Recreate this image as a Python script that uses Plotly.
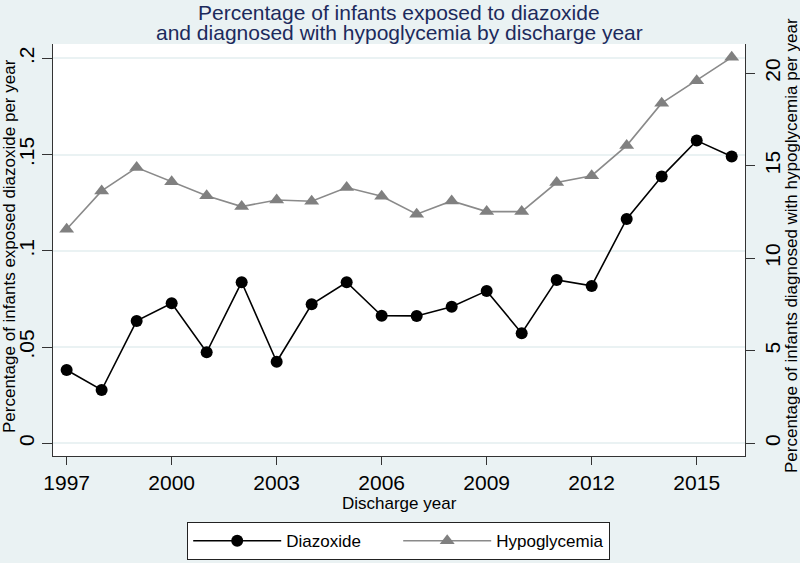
import plotly.graph_objects as go

years = list(range(1997, 2017))
diazoxide = [0.0381, 0.0277, 0.0636, 0.0728, 0.0473, 0.0837, 0.0424, 0.0722, 0.0837, 0.0663,
             0.0662, 0.0710, 0.0792, 0.0572, 0.0849, 0.0818, 0.1166, 0.1386, 0.1573, 0.1490]
hypoglycemia = [11.57, 13.64, 14.90, 14.14, 13.38, 12.79, 13.15, 13.08, 13.82, 13.35,
                12.38, 13.10, 12.52, 12.52, 14.09, 14.46, 16.09, 18.38, 19.60, 20.86]

x_ticks = [1997, 2000, 2003, 2006, 2009, 2012, 2015]
left_ticks = [0, 0.05, 0.1, 0.15, 0.2]
left_labels = ["0", ".05", ".1", ".15", ".2"]
right_ticks = [0, 5, 10, 15, 20]

title_lines = ["Percentage of infants exposed to diazoxide",
               "and diagnosed with hypoglycemia by discharge year"]
x_title = "Discharge year"
y_title = "Percentage of infants exposed diazoxide per year"
y2_title = "Percentage of infants diagnosed with hypoglycemia per year"

FONT = "Liberation Sans, Arial, sans-serif"
BG = "#EAF2F3"
AX = "#333333"

fig = go.Figure()
fig.add_trace(go.Scatter(
    x=years, y=diazoxide, name="Diazoxide", mode="lines+markers",
    line=dict(color="black", width=1.6),
    marker=dict(symbol="circle", size=12, color="black"),
    yaxis="y"))
fig.add_trace(go.Scatter(
    x=years, y=hypoglycemia, name="Hypoglycemia", mode="lines+markers",
    line=dict(color="#8a8a8a", width=1.6),
    marker=dict(symbol="triangle-up", size=13, color="#808080"),
    yaxis="y2"))

L, R, T, B = 53, 55, 44, 107
W, H = 800, 563
pw, ph = W - L - R, H - T - B


def px_x(p):
    return (p - L) / pw


def px_y(p):
    return (H - B - p) / ph


annotations = [
    dict(text=title_lines[0], x=0.5, xref="paper", y=px_y(12), yref="paper",
         xanchor="center", yanchor="middle", showarrow=False,
         font=dict(size=21, color="#1c2a5c", family=FONT)),
    dict(text=title_lines[1], x=0.5, xref="paper", y=px_y(33), yref="paper",
         xanchor="center", yanchor="middle", showarrow=False,
         font=dict(size=21, color="#1c2a5c", family=FONT)),
    dict(text=x_title, x=0.5, xref="paper", y=px_y(503), yref="paper",
         xanchor="center", yanchor="middle", showarrow=False,
         font=dict(size=17, color="black", family=FONT)),
    dict(text=y_title, x=px_x(9), xref="paper", y=px_y(246), yref="paper",
         xanchor="center", yanchor="middle", showarrow=False, textangle=-90,
         font=dict(size=17, color="black", family=FONT)),
    dict(text=y2_title, x=px_x(791), xref="paper", y=px_y(246), yref="paper",
         xanchor="center", yanchor="middle", showarrow=False, textangle=-90,
         font=dict(size=17, color="black", family=FONT)),
]

fig.update_layout(
    width=W, height=H,
    paper_bgcolor=BG, plot_bgcolor="white",
    margin=dict(l=L, r=R, t=T, b=B, autoexpand=False),
    font=dict(family=FONT, color="black"),
    annotations=annotations,
    xaxis=dict(range=[1996.61, 2016.38], tickvals=x_ticks, ticks="outside", ticklen=8,
               tickcolor=AX, showline=True, linecolor=AX, linewidth=1.2,
               showgrid=False, zeroline=False, tickfont=dict(size=21),
               ticklabelstandoff=0, automargin=False),
    yaxis=dict(range=[-0.0066, 0.2075], tickvals=left_ticks, ticktext=left_labels,
               ticks="outside", ticklen=10, tickcolor=AX, tickangle=-90,
               showline=True, linecolor=AX, linewidth=1.2,
               showgrid=True, gridcolor=BG, gridwidth=1.5, zeroline=False,
               tickfont=dict(size=21), automargin=False),
    yaxis2=dict(range=[-0.69, 21.58], tickvals=right_ticks, overlaying="y", side="right",
                ticks="outside", ticklen=9, tickcolor=AX, tickangle=-90,
                showline=True, linecolor=AX, linewidth=1.2,
                showgrid=False, zeroline=False, tickfont=dict(size=21),
                automargin=False),
    legend=dict(orientation="h", x=px_x(187), xanchor="left", y=px_y(522), yanchor="top",
                bgcolor="white", bordercolor="#222", borderwidth=1.2,
                font=dict(size=17), itemwidth=88, entrywidth=107),
    showlegend=True,
)

fig.write_html("out.html", config={"displayModeBar": False},
               post_script="document.body.style.margin='0';document.body.style.overflow='hidden';")
